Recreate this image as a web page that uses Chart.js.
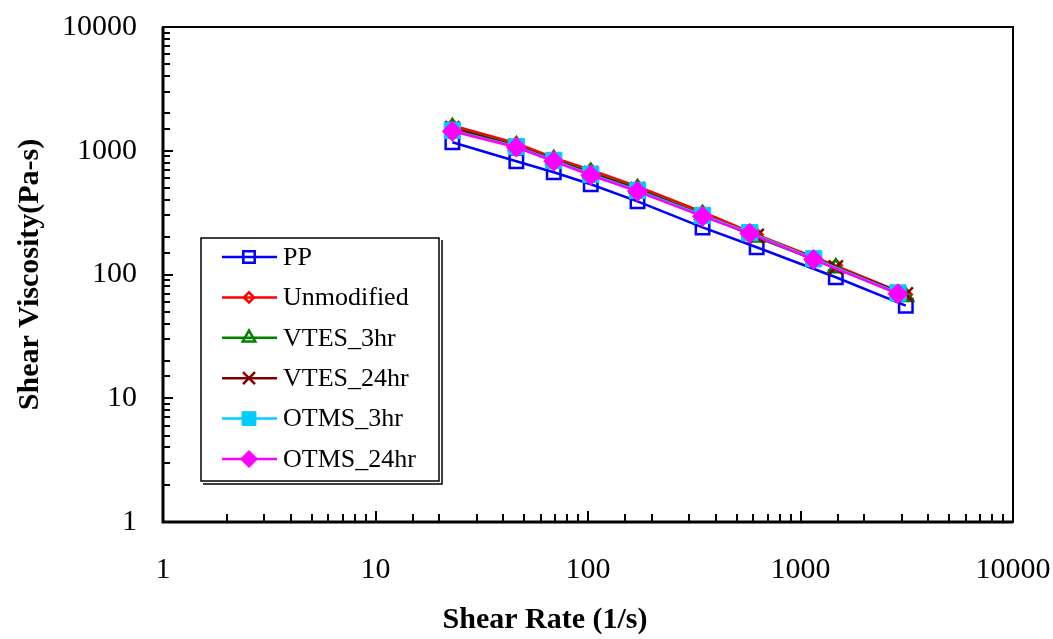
<!DOCTYPE html>
<html>
<head>
<meta charset="utf-8">
<script src="https://cdn.jsdelivr.net/npm/chart.js@4"></script>
<style>
  html, body { margin: 0; padding: 0; background: #fff; }
  #wrap { width: 1053px; height: 639px; }
</style>
</head>
<body>
<div id="wrap"><canvas id="chart" width="1053" height="639"></canvas></div>
<script>
// shear rates (1/s)
const rateA = [23, 46, 69, 103, 171, 346, 622, 1466, 3130];
const rateOTMS = [23, 46, 69, 103, 171, 346, 577, 1153, 2872];

// shear viscosity (Pa-s)
const pp = [1172, 823, 670, 536, 390, 240, 166, 95, 56];
const unmodified = [1600, 1150, 880, 700, 515, 320, 210, 118, 69];
const vtes3 = [1540, 1100, 850, 670, 495, 305, 200, 113, 66];
const vtes24 = [1520, 1090, 845, 660, 490, 302, 205, 114, 69];
const otms3 = [1460, 1080, 835, 645, 478, 300, 218, 134, 71];
const otms24 = [1438, 1067, 823, 634, 470, 295, 215, 132, 70];

const seriesNames = ["PP", "Unmodified", "VTES_3hr", "VTES_24hr", "OTMS_3hr", "OTMS_24hr"];
const axisTicks = [1, 10, 100, 1000, 10000];

const serif = "'Liberation Serif', 'Times New Roman', serif";

function pts(xs, ys) {
    return xs.map((x, i) => ({ x: x, y: ys[i] }));
}

function isPow10(v) {
    const l = Math.log10(v);
    return Math.abs(l - Math.round(l)) < 1e-9;
}

function series(label, xs, ys, color, style, radius, fill, order) {
    return {
        label: label,
        data: pts(xs, ys),
        borderColor: color,
        borderWidth: 2.5,
        pointStyle: style,
        pointRadius: radius,
        pointHoverRadius: radius,
        pointBorderColor: color,
        pointBackgroundColor: fill ? color : "rgba(0,0,0,0)",
        pointBorderWidth: fill ? 1 : 2.5,
        tension: 0,
        fill: false,
        order: order,
    };
}

const datasets = [
    series(seriesNames[0], rateA, pp, "#0000ff", "rect", 9.5, false, 5),
    series(seriesNames[1], rateA, unmodified, "#ff0000", "rectRot", 6, false, 4),
    series(seriesNames[2], rateA, vtes3, "#008000", "triangle", 8.5, false, 3),
    series(seriesNames[3], rateA, vtes24, "#800000", "crossRot", 10, false, 2),
    series(seriesNames[4], rateOTMS, otms3, "#00ccff", "rect", 11.5, true, 1),
    series(seriesNames[5], rateOTMS, otms24, "#ff00ff", "rectRot", 10, true, 0),
];

// frame, inward ticks, x title and the legend box
const framePlugin = {
    id: "frame",
    afterDraw(chart) {
        const ctx = chart.ctx;
        const a = chart.chartArea;
        ctx.save();
        ctx.strokeStyle = "#000";
        ctx.lineWidth = 2;
        ctx.strokeRect(a.left, a.top, a.right - a.left, a.bottom - a.top);
        ctx.lineWidth = 3;
        ctx.beginPath();
        ctx.moveTo(a.left, a.top);
        ctx.lineTo(a.left, a.bottom);
        ctx.lineTo(a.right, a.bottom);
        ctx.stroke();

        ctx.lineWidth = 2;
        const sx = chart.scales.x;
        sx.ticks.forEach((t) => {
            const px = Math.round(sx.getPixelForValue(t.value));
            const len = isPow10(t.value) ? 11 : 8;
            ctx.beginPath();
            ctx.moveTo(px, a.bottom);
            ctx.lineTo(px, a.bottom - len);
            ctx.stroke();
        });
        const sy = chart.scales.y;
        sy.ticks.forEach((t) => {
            const py = Math.round(sy.getPixelForValue(t.value));
            const len = isPow10(t.value) ? 10 : 7;
            ctx.beginPath();
            ctx.moveTo(a.left, py);
            ctx.lineTo(a.left + len, py);
            ctx.stroke();
        });

        // x axis title
        ctx.fillStyle = "#000";
        ctx.font = "bold 30px " + serif;
        ctx.textAlign = "center";
        ctx.textBaseline = "middle";
        ctx.fillText("Shear Rate (1/s)", 545, 620);

        // legend
        const bx = 201, by = 238, bw = 238, bh = 243;
        ctx.fillStyle = "#fff";
        ctx.fillRect(bx, by, bw, bh);
        ctx.lineWidth = 1.5;
        ctx.strokeStyle = "#000";
        ctx.strokeRect(bx, by, bw, bh);
        ctx.beginPath();
        ctx.moveTo(bx + bw + 3, by + 2);
        ctx.lineTo(bx + bw + 3, by + bh + 3);
        ctx.lineTo(bx + 2, by + bh + 3);
        ctx.stroke();

        ctx.font = "26px " + serif;
        ctx.textBaseline = "middle";
        ctx.textAlign = "left";
        chart.data.datasets.forEach((ds, i) => {
            const y = 257 + i * 40.4;
            ctx.strokeStyle = ds.borderColor;
            ctx.lineWidth = 2.5;
            ctx.beginPath();
            ctx.moveTo(222, y);
            ctx.lineTo(277, y);
            ctx.stroke();
            ctx.fillStyle = ds.pointBackgroundColor;
            ctx.strokeStyle = ds.pointBorderColor;
            ctx.lineWidth = ds.pointBorderWidth;
            Chart.helpers.drawPoint(ctx, {
                pointStyle: ds.pointStyle,
                radius: ds.pointRadius * 0.85,
                borderWidth: ds.pointBorderWidth,
                rotation: 0,
            }, 249, y);
            ctx.fillStyle = "#000";
            ctx.fillText(ds.label, 283, y + 1);
        });
        ctx.restore();
    },
};

const config = {
    type: "line",
    data: { datasets: datasets },
    options: {
        responsive: false,
        animation: false,
        events: [],
        layout: { padding: { top: 27, right: 40, left: 0, bottom: 0 } },
        plugins: {
            legend: { display: false },
            tooltip: { enabled: false },
        },
        scales: {
            x: {
                type: "logarithmic",
                min: 1,
                max: 10000,
                grid: { display: false, drawTicks: false },
                border: { display: false },
                afterFit(scale) {
                    scale.height = 117;
                    scale.paddingLeft = 0;
                    scale.paddingRight = 0;
                },
                ticks: {
                    autoSkip: false,
                    maxRotation: 0,
                    padding: 30,
                    color: "#000",
                    font: { family: serif, size: 30 },
                    callback: (v) => axisTicks.includes(v) ? String(v) : "",
                },
            },
            y: {
                type: "logarithmic",
                min: 1,
                max: 10000,
                grid: { display: false, drawTicks: false },
                border: { display: false },
                afterFit(scale) {
                    scale.width = 163;
                    scale.paddingTop = 0;
                    scale.paddingBottom = 0;
                },
                ticks: {
                    autoSkip: false,
                    padding: 26,
                    color: "#000",
                    font: { family: serif, size: 30 },
                    callback: (v) => axisTicks.includes(v) ? String(v) : "",
                },
                title: {
                    display: true,
                    text: "Shear Viscosity(Pa-s)",
                    color: "#000",
                    font: { family: serif, size: 30, weight: "bold" },
                    padding: { top: 12, bottom: 0 },
                },
            },
        },
    },
    plugins: [framePlugin],
};

const myChart = new Chart(document.getElementById("chart"), config);
</script>
</body>
</html>
